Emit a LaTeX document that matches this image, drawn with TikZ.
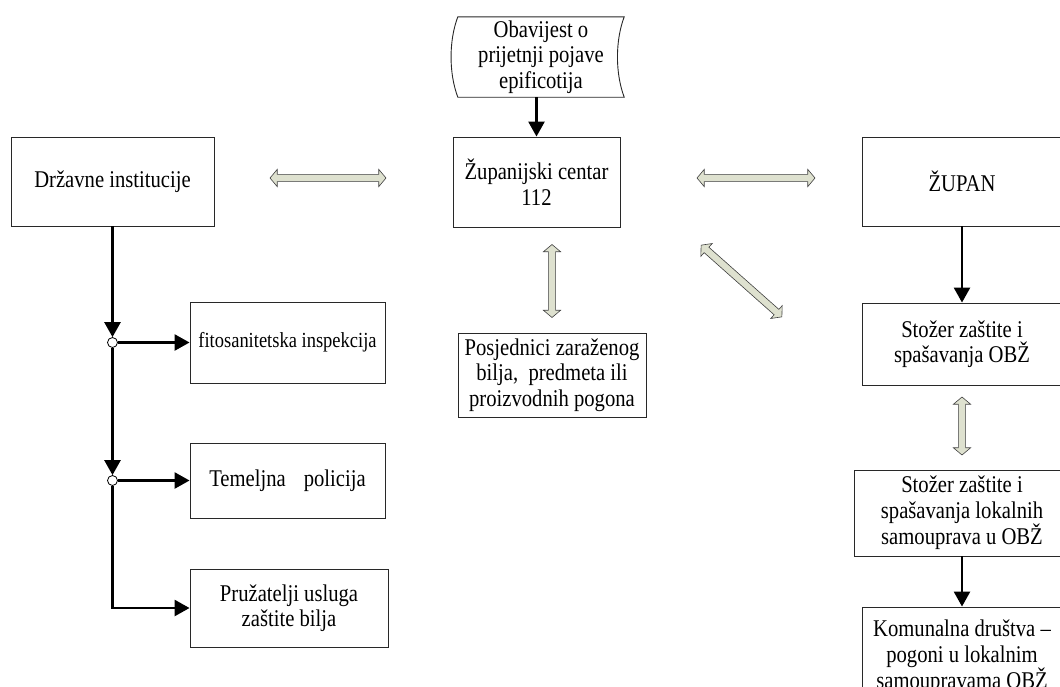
\documentclass[tikz,border=0pt]{standalone}
\usepackage{fontspec}
\setmainfont{Liberation Serif}[FakeStretch=0.86]
\usetikzlibrary{arrows.meta,shapes.arrows,calc}
\definecolor{arrowfill}{RGB}{222,225,207}
\definecolor{arrowedge}{RGB}{64,64,64}
\definecolor{boxedge}{RGB}{40,40,40}

\begin{document}
\begin{tikzpicture}[x=1pt,y=-1pt,
  box/.style={draw=boxedge, line width=0.9pt, fill=white, align=center,
    font=\fontsize{24}{25.5}\selectfont, inner sep=0pt},
  plain/.style={align=center, font=\fontsize{24}{25.5}\selectfont, inner sep=0pt},
  flow/.style={line width=2.6pt, -{Triangle[length=15pt,width=16pt]}},
  dot/.style={circle, draw=black, line width=0.8pt, fill=white,
    minimum size=10pt, inner sep=0pt},
  hollow/.style={shape=double arrow, draw=arrowedge, fill=arrowfill,
    line width=0.6pt, inner sep=3.3pt, double arrow head extend=5pt,
    double arrow tip angle=100},
]
\useasboundingbox (0,0) rectangle (1060,686);
\clip (0,0) rectangle (1060,686);

% left column
\node[box, minimum width=203pt, minimum height=89pt] (drz) at (112.5,181.5) {Državne institucije};
\node[box, minimum width=195pt, minimum height=81pt, font=\fontsize{21.5}{25.5}\selectfont] (fito) at (287.5,342.5) {fitosanitetska inspekcija};
\node[box, minimum width=195pt, minimum height=75pt] (tem) at (287.5,480.5) {Temeljna\hspace{18pt}policija};
\node[box, minimum width=198pt, minimum height=78pt] (pru) at (289,608) {Pružatelji usluga\\zaštite bilja};
\node[dot] (c1) at (112.5,342.5) {};
\node[dot] (c2) at (112.5,480.5) {};

\draw[flow] (drz.south) -- (c1.north);
\draw[flow] (c1.east) -- (fito.west);
\draw[flow] (c1.south) -- (c2.north);
\draw[flow] (c2.east) -- (tem.west);
\draw[flow] (c2.south) |- (pru.west);

% centre column
\node[plain, minimum width=166pt, minimum height=80pt] (doc) at (541,57) {Obavijest o\\prijetnji pojave\\epificotija};
\draw[draw=boxedge, line width=0.9pt]
  (doc.north west) -- (doc.north east)
  .. controls ($(doc.north east)+(-9,24)$) and ($(doc.south east)+(-9,-24)$) .. (doc.south east)
  -- (doc.south west)
  .. controls ($(doc.south west)+(-9,-24)$) and ($(doc.north west)+(-9,24)$) .. (doc.north west)
  -- cycle;
\node[box, minimum width=167pt, minimum height=90pt] (zc) at (536.5,182) {Županijski centar\\112};
\node[box, minimum width=188pt, minimum height=84pt] (pos) at (552,375) {Posjednici zaraženog\\bilja,\ \ predmeta ili\\proizvodnih pogona};

\draw[flow] (zc.north |- doc.south) -- (zc.north);

% right column
\node[box, minimum width=200pt, minimum height=89pt] (zup) at (962,181.5) {ŽUPAN};
\node[box, minimum width=200pt, minimum height=82pt] (sto) at (962,344) {Stožer zaštite i\\spašavanja OBŽ};
\node[box, minimum width=216pt, minimum height=86pt] (lok) at (962,513) {Stožer zaštite i\\spašavanja lokalnih\\samouprava u OBŽ};
\node[box, minimum width=200pt, minimum height=100pt] (kom) at (962,657) {Komunalna društva –\\pogoni u lokalnim\\samoupravama OBŽ};

\draw[flow] (zup.south) -- (sto.north);
\draw[flow] (lok.south) -- (kom.north);

% two-way links
\node[hollow, minimum height=116pt] (hl) at (328,178) {};
\node[hollow, minimum height=118pt] (hr) at (756,178) {};
\node[hollow, minimum height=73pt, rotate=90] (hv) at (552,281) {};
\node[hollow, minimum height=108pt, rotate=-41.6] (hd) at (741.5,281) {};
\node[hollow, minimum height=58pt, rotate=90] (hs) at (962,426) {};
\end{tikzpicture}
\end{document}
